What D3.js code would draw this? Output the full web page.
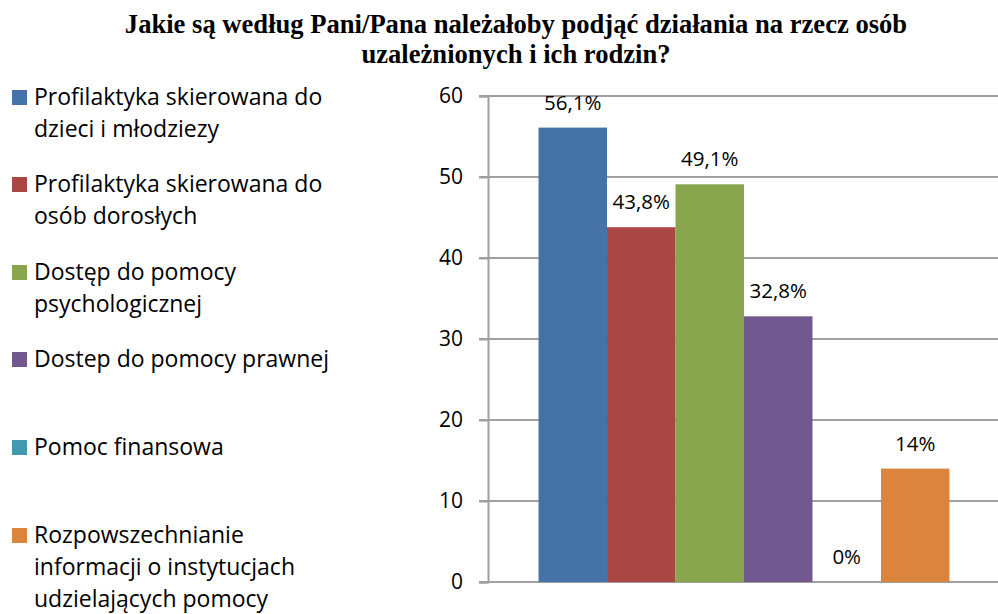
<!DOCTYPE html>
<html>
<head>
<meta charset="utf-8">
<script src="https://cdn.jsdelivr.net/npm/d3@7"></script>
<style>
  html, body { margin: 0; padding: 0; background: #fff; }
  svg { display: block; }
</style>
</head>
<body>
<svg id="chart" width="998" height="614"></svg>
<script>
const titleLines = ["Jakie są według Pani/Pana należałoby podjąć działania na rzecz osób", "uzależnionych i ich rodzin?"];
const category = "Kategoria";
const seriesNames = [
  ["Profilaktyka skierowana do", "dzieci i młodziezy"],
  ["Profilaktyka skierowana do", "osób dorosłych"],
  ["Dostęp do pomocy", "psychologicznej"],
  ["Dostep do pomocy prawnej"],
  ["Pomoc finansowa"],
  ["Rozpowszechnianie", "informacji o instytucjach", "udzielających pomocy"]
];
const values = [56.1, 43.8, 49.1, 32.8, 0, 14];
const valueLabels = ["56,1%", "43,8%", "49,1%", "32,8%", "0%", "14%"];
const colors = ["#4572A7", "#AA4643", "#89A54E", "#71588F", "#4198AF", "#DB843D"];
const yTicks = [0, 10, 20, 30, 40, 50, 60];

const svg = d3.select("#chart");
const font = "'Open Sans', sans-serif";

// Title
svg.append("text")
  .attr("x", 516).attr("y", 33)
  .attr("text-anchor", "middle")
  .attr("font-family", "'Liberation Serif', 'Times New Roman', serif")
  .attr("font-weight", "bold")
  .attr("font-size", 26.6)
  .selectAll("tspan").data(titleLines).join("tspan")
  .attr("x", 516).attr("dy", (d, i) => i === 0 ? 0 : 30)
  .text(d => d);

// Scales
const plotLeft = 488, plotRight = 1000, plotTop = 96, plotBottom = 582;
const y = d3.scaleLinear().domain([0, 60]).range([plotBottom, plotTop]);
const x0 = d3.scaleBand().domain([category]).range([plotLeft, plotRight]).paddingInner(0).paddingOuter(0.123);
const idx = d3.range(values.length);
const x1 = d3.scaleBand().domain(idx).range([0, x0.bandwidth()]).padding(0);

// Gridlines
const gridColor = "#a0a0a0";
svg.append("g").selectAll("line").data(yTicks).join("line")
  .attr("x1", plotLeft - 9).attr("x2", 998)
  .attr("y1", d => y(d)).attr("y2", d => y(d))
  .attr("stroke", gridColor).attr("stroke-width", 2);

// Y axis
const yAxis = d3.axisLeft(y).tickValues(yTicks).tickSize(9).tickPadding(16).tickFormat(d3.format("d"));
const gAxis = svg.append("g").attr("transform", `translate(${plotLeft},0)`).call(yAxis);
gAxis.select(".domain").attr("stroke", gridColor).attr("stroke-width", 2);
gAxis.selectAll(".tick line").attr("stroke", gridColor).attr("stroke-width", 2);
gAxis.selectAll(".tick text")
  .attr("font-family", font).attr("font-size", 21).attr("fill", "#000");

// Bars
svg.append("g").selectAll("rect").data(idx).join("rect")
  .attr("x", i => x0(category) + x1(i))
  .attr("width", x1.bandwidth())
  .attr("y", i => y(values[i]))
  .attr("height", i => y(0) - y(values[i]))
  .attr("fill", i => colors[i]);

// Value labels
svg.append("g").selectAll("text").data(idx).join("text")
  .attr("x", i => x0(category) + x1(i) + x1.bandwidth() / 2)
  .attr("y", i => y(values[i]) - 18)
  .attr("text-anchor", "middle")
  .attr("font-family", font).attr("font-size", 20.5).attr("fill", "#000")
  .text(i => valueLabels[i]);

// Legend
const legendBase = [105, 192, 280, 367, 455, 543];
const leg = svg.append("g").selectAll("g").data(idx).join("g")
  .attr("transform", i => `translate(0,${legendBase[i]})`);
leg.append("rect").attr("x", 12).attr("y", -15).attr("width", 15).attr("height", 15)
  .attr("fill", i => colors[i]);
leg.append("text")
  .attr("font-family", font).attr("font-size", 23).attr("fill", "#000")
  .selectAll("tspan").data(i => seriesNames[i]).join("tspan")
  .attr("x", 34).attr("y", (d, j) => j * 32)
  .text(d => d);
</script>
</body>
</html>
